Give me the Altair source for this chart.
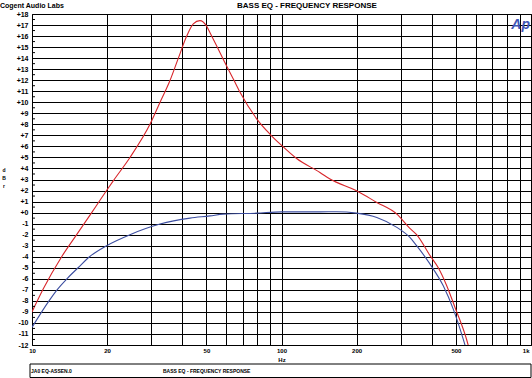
import altair as alt
import pandas as pd

# ---- data ----
red_freq = [10, 11.1, 13.15, 15.1, 17.35, 18.7, 19.9, 21.2, 24.7, 29.7, 32.6, 35.7, 38.6,
            41.7, 44.3, 47.1, 50.1, 51.7, 55, 58.4, 64.1, 68.2, 79.5, 90, 100, 115, 142.6,
            156.5, 200, 241, 290, 327, 348, 394, 425, 459, 496, 552, 575]
red_db = [-9.0, -6.9, -4.0, -2.0, 0.0, 1.1, 2.0, 2.9, 5.0, 8.0, 10.0, 11.95, 14.0,
          16.0, 17.1, 17.4, 16.9, 16.3, 15.1, 13.9, 12.1, 10.9, 8.5, 7.1, 6.1, 4.9, 3.64,
          3.04, 1.98, 0.92, -0.14, -1.43, -2.0, -3.9, -5.0, -6.6, -8.6, -11.5, -13.0]

blue_freq = [10, 11.7, 12.6, 13.8, 15.3, 17.0, 19.9, 24.7, 32.6, 43, 51.7, 58.4, 79.5,
             100, 142.6, 166, 200, 241, 290, 327, 348, 394, 445, 488, 535, 560]
blue_db = [-10.4, -8.0, -7.0, -6.0, -5.0, -4.0, -3.0, -2.0, -1.04, -0.5, -0.3, -0.14, -0.05,
           0.07, 0.07, 0.08, -0.05, -0.44, -1.34, -2.25, -3.0, -4.67, -6.64, -8.75, -11.47, -13.0]

x_grid = [10, 20, 30, 40, 50, 60, 70, 80, 90, 100, 200, 300, 400, 500, 600, 700, 800, 900, 1000]
y_ticks = list(range(-12, 19))
y_minor = [v + 0.5 for v in range(-12, 18)]

title_text = "BASS EQ - FREQUENCY RESPONSE"
company_text = "Cogent Audio Labs"
file_text = "JA0 EQ-ASSEN.0"

FONT = "Liberation Sans"

df = pd.concat([
    pd.DataFrame({"freq": red_freq, "db": red_db, "series": "red"}),
    pd.DataFrame({"freq": blue_freq, "db": blue_db, "series": "blue"}),
])

xscale = alt.Scale(type="log", domain=[10, 1000], nice=False)
yscale = alt.Scale(domain=[-12, 18], nice=False, zero=False)

x_axis = alt.Axis(
    values=x_grid, title="Hz", grid=True, gridColor="black", gridOpacity=1, gridWidth=1,
    ticks=False, domain=False,
    labelExpr="datum.value == 1000 ? '1k' : (indexof([10,20,50,100,200,500], datum.value) >= 0 ? '' + datum.value : '')",
    labelAlign={"condition": {"test": "datum.value == 1000", "value": "right"}, "value": "center"},
    labelOffset={"condition": {"test": "datum.value == 1000", "value": -2}, "value": 0},
    labelFont=FONT, labelFontWeight="bold", labelFontSize=6, labelColor="black",
    labelPadding=2, labelOverlap=False,
    titleFont=FONT, titleFontWeight="bold", titleFontSize=6, titleColor="black", titlePadding=3,
)
y_axis = alt.Axis(
    values=y_ticks, title=None, grid=True, gridColor="black", gridOpacity=1, gridWidth=1,
    ticks=False, domain=False, tickCount=31,
    labelExpr="datum.value >= 0 ? '+' + datum.value : '' + datum.value",
    labelFont=FONT, labelFontWeight="bold", labelFontSize=7, labelColor="black",
    labelPadding=4, labelOverlap=False, labelBaseline="middle",
)

lines = alt.Chart(df).mark_line(clip=True, strokeWidth=1.1, interpolate="monotone").encode(
    x=alt.X("freq:Q", scale=xscale, axis=x_axis),
    y=alt.Y("db:Q", scale=yscale, axis=y_axis),
    color=alt.Color("series:N", scale=alt.Scale(domain=["red", "blue"], range=["#d8262b", "#3c4ea0"]), legend=None),
    detail="series:N",
)

minor = alt.Chart(pd.DataFrame({"v": y_minor})).mark_rule(color="black", strokeWidth=1).encode(
    y=alt.Y("v:Q", scale=yscale, axis=y_axis),
    x=alt.value(0), x2=alt.value(3),
)

def label(text, x, y, size, align="left", weight="bold", color="black", style="normal", baseline="alphabetic"):
    return alt.Chart(pd.DataFrame({"t": [text]})).mark_text(
        font=FONT, fontSize=size, fontWeight=weight, fontStyle=style, color=color,
        align=align, baseline=baseline, lineBreak="\n", lineHeight=8,
    ).encode(x=alt.value(x), y=alt.value(y), text="t:N")

company = label(company_text, -32, -6, 7)
title = label(title_text, 205, -6, 8)
logo = label("Ap", 498, 15, 14, align="right", style="italic", color="#3f55b5")
ytitle = label("d\nB\nr", -28, 154, 5, align="center", baseline="top")

box = alt.Chart(pd.DataFrame({"a": [0]})).mark_rect(fill="white", stroke="black", strokeWidth=1).encode(
    x=alt.value(-2), x2=alt.value(499), y=alt.value(350), y2=alt.value(363.5)
)
file_lbl = label(file_text, -1, 359, 5)
box_title = label(title_text, 131, 359, 5)

chart = alt.layer(lines, minor, company, title, logo, ytitle, box, file_lbl, box_title).properties(
    width=499, height=331,
    padding={"left": 32, "top": 14, "right": 1, "bottom": 33},
    autosize=alt.AutoSizeParams(type="none"),
    background="white",
).configure_view(stroke="black", strokeWidth=1)

chart.save("out.html", embed_options={"renderer": "svg", "actions": False})
